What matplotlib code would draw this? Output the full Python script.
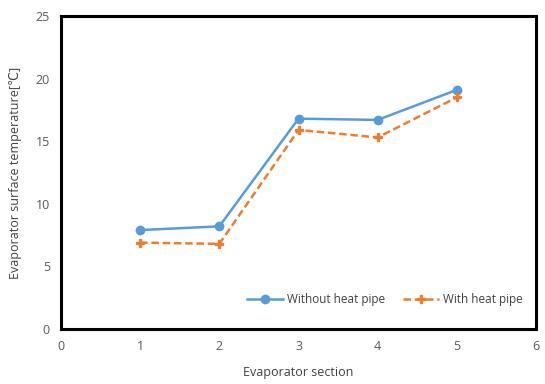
import numpy as np
import matplotlib.pyplot as plt

plt.rcParams['font.family'] = ['Open Sans', 'DejaVu Sans']

# data
sections = [1, 2, 3, 4, 5]
without_pipe = [7.9, 8.2, 16.8, 16.7, 19.1]
with_pipe = [6.9, 6.8, 15.9, 15.3, 18.5]

fig = plt.figure(figsize=(5.45, 3.84), dpi=100)
ax = fig.add_axes([61/545, 1 - 329/384, 475/545, 313/384])

ax.plot(sections, without_pipe, color='#5b9bd5', lw=1.8, marker='o', ms=6,
        label='Without heat pipe')
ax.plot(sections, with_pipe, color='#ed7d31', lw=1.8, ls=(0, (3, 1.5)), marker='P', ms=5.5,
        label='With heat pipe')

ax.set_xlim(0, 6)
ax.set_ylim(0, 25)
ax.set_xticks(range(0, 7))
ax.set_yticks(range(0, 26, 5))
ax.tick_params(length=0, labelsize=9, colors='#595959', pad=8)

for s in ax.spines.values():
    s.set_linewidth(2.2)
    s.set_color('black')

ax.set_xlabel('Evaporator section', fontsize=9, color='#404040', labelpad=9)
ax.set_ylabel('Evaporator surface temperature[℃]', fontsize=9, color='#404040', labelpad=10)

ax.legend(loc='lower right', bbox_to_anchor=(0.995, 0.04), ncol=2, frameon=False,
          fontsize=8.5, handlelength=3, labelcolor='#404040', columnspacing=1.5,
          handletextpad=0.4)

fig.savefig('out.png', dpi=100)
